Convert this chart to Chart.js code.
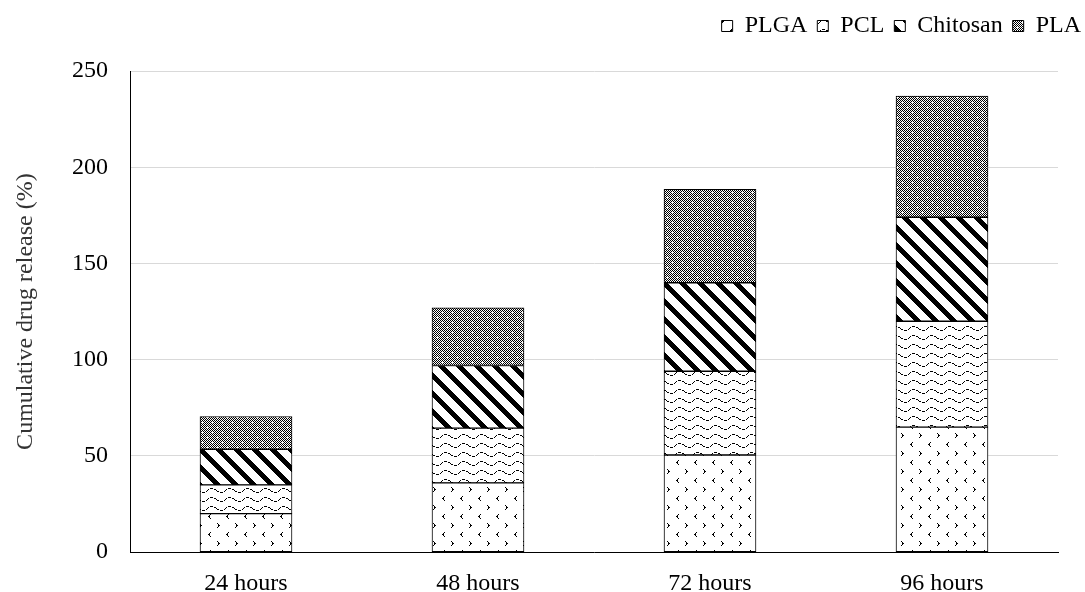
<!DOCTYPE html>
<html>
<head>
<meta charset="utf-8">
<script src="https://cdn.jsdelivr.net/npm/chart.js@4.4.1/dist/chart.umd.min.js"></script>
<style>
  html, body { margin: 0; padding: 0; background: #fff; }
  #wrap { width: 1085px; height: 592px; }
</style>
</head>
<body>
<div id="wrap"><canvas id="chart" width="1085" height="592"></canvas></div>
<script>
// Release data per time point, one array per polymer
const timePoints = ['24 hours', '48 hours', '72 hours', '96 hours'];
const plga     = [20, 36, 50.5, 65];
const pcl      = [15, 28.5, 43.5, 55];
const chitosan = [18.5, 32.5, 46, 54];
const pla      = [17, 30, 48.5, 63];

// Small bitmap tiles used as fill patterns
function makeTile(w, h, isBlack) {
  const c = document.createElement('canvas');
  c.width = w; c.height = h;
  const g = c.getContext('2d');
  const img = g.createImageData(w, h);
  for (let y = 0; y < h; y++) {
    for (let x = 0; x < w; x++) {
      const v = isBlack(x, y) ? 0 : 255;
      const i = (y * w + x) * 4;
      img.data[i] = img.data[i + 1] = img.data[i + 2] = v;
      img.data[i + 3] = 255;
    }
  }
  g.putImageData(img, 0, 0);
  return g.createPattern(c, 'repeat');
}

function hasPixel(list, x, y) {
  return list.some(p => p[0] === x && p[1] === y);
}

// PLGA: scattered ">" and "<" marks
const gtMark = [[1, 1], [2, 2], [3, 3], [2, 4], [1, 5], [2, 3]];
const ltMark = [[12, 10], [11, 11], [10, 12], [11, 13], [12, 14], [11, 12]];
const plgaPattern = makeTile(18, 18, (x, y) => hasPixel(gtMark, x, y) || hasPixel(ltMark, x, y));

// PCL: dashed waves
const pclPattern = makeTile(18, 9, (x, y) => {
  const wy = 4 + Math.round(2 * Math.sin(2 * Math.PI * x / 18));
  return y === wy && (x % 4) !== 3;
});

// Chitosan: wide downward diagonal stripes
const chitosanPattern = makeTile(18, 18, (x, y) => ((x - y + 36) % 18) < 7);

// PLA: fine checker with white dots
const plaPattern = makeTile(10, 10, (x, y) => {
  const dots = [[2, 2], [7, 7]];
  for (const [cx, cy] of dots) {
    if ((x === cx && Math.abs(y - cy) <= 1) || (y === cy && Math.abs(x - cx) <= 1)) return false;
  }
  return (x + y) % 2 === 0;
});

const serif = "'Liberation Serif', 'Times New Roman', serif";

function series(label, data, pattern) {
  return {
    label: label,
    data: data,
    backgroundColor: pattern,
    borderColor: '#000',
    borderWidth: 1,
    borderSkipped: false,
    barThickness: 92
  };
}

// extra room between the legend row and the plot
const legendSpacer = {
  id: 'legendSpacer',
  beforeInit(chart) {
    const fit = chart.legend.fit;
    chart.legend.fit = function () {
      fit.call(this);
      this.height += 23;
    };
  }
};

new Chart(document.getElementById('chart').getContext('2d'), {
  type: 'bar',
  data: {
    labels: timePoints,
    datasets: [
      series('PLGA', plga, plgaPattern),
      series('PCL', pcl, pclPattern),
      series('Chitosan', chitosan, chitosanPattern),
      series('PLA', pla, plaPattern)
    ]
  },
  plugins: [legendSpacer],
  options: {
    responsive: false,
    animation: false,
    layout: { padding: { top: 4, right: -6, left: 5, bottom: -23 } },
    plugins: {
      tooltip: { enabled: false },
      legend: {
        position: 'top',
        align: 'end',
        labels: {
          boxWidth: 11,
          boxHeight: 11,
          padding: 10,
          color: '#000',
          font: { family: serif, size: 24 }
        }
      }
    },
    scales: {
      x: {
        stacked: true,
        grid: { display: false, drawTicks: false },
        border: { display: true, color: '#000', width: 1 },
        ticks: { color: '#000', padding: 17, font: { family: serif, size: 24 } }
      },
      y: {
        stacked: true,
        min: 0,
        max: 250,
        grid: { color: '#d9d9d9', drawTicks: false },
        border: { display: true, color: '#000', width: 1 },
        ticks: { stepSize: 50, color: '#000', padding: 22, font: { family: serif, size: 24 } },
        title: {
          display: true,
          text: 'Cumulative drug release (%)',
          color: '#333',
          padding: { top: 6, bottom: 10 },
          font: { family: serif, size: 24 }
        },
        afterFit(scale) { scale.width = 125; }
      },
      // empty strip on the right so the plot ends short of the legend
      yRight: {
        position: 'right',
        display: true,
        grid: { display: false },
        border: { display: false },
        ticks: { display: false },
        afterFit(scale) { scale.width = 33; }
      }
    }
  }
});
</script>
</body>
</html>
